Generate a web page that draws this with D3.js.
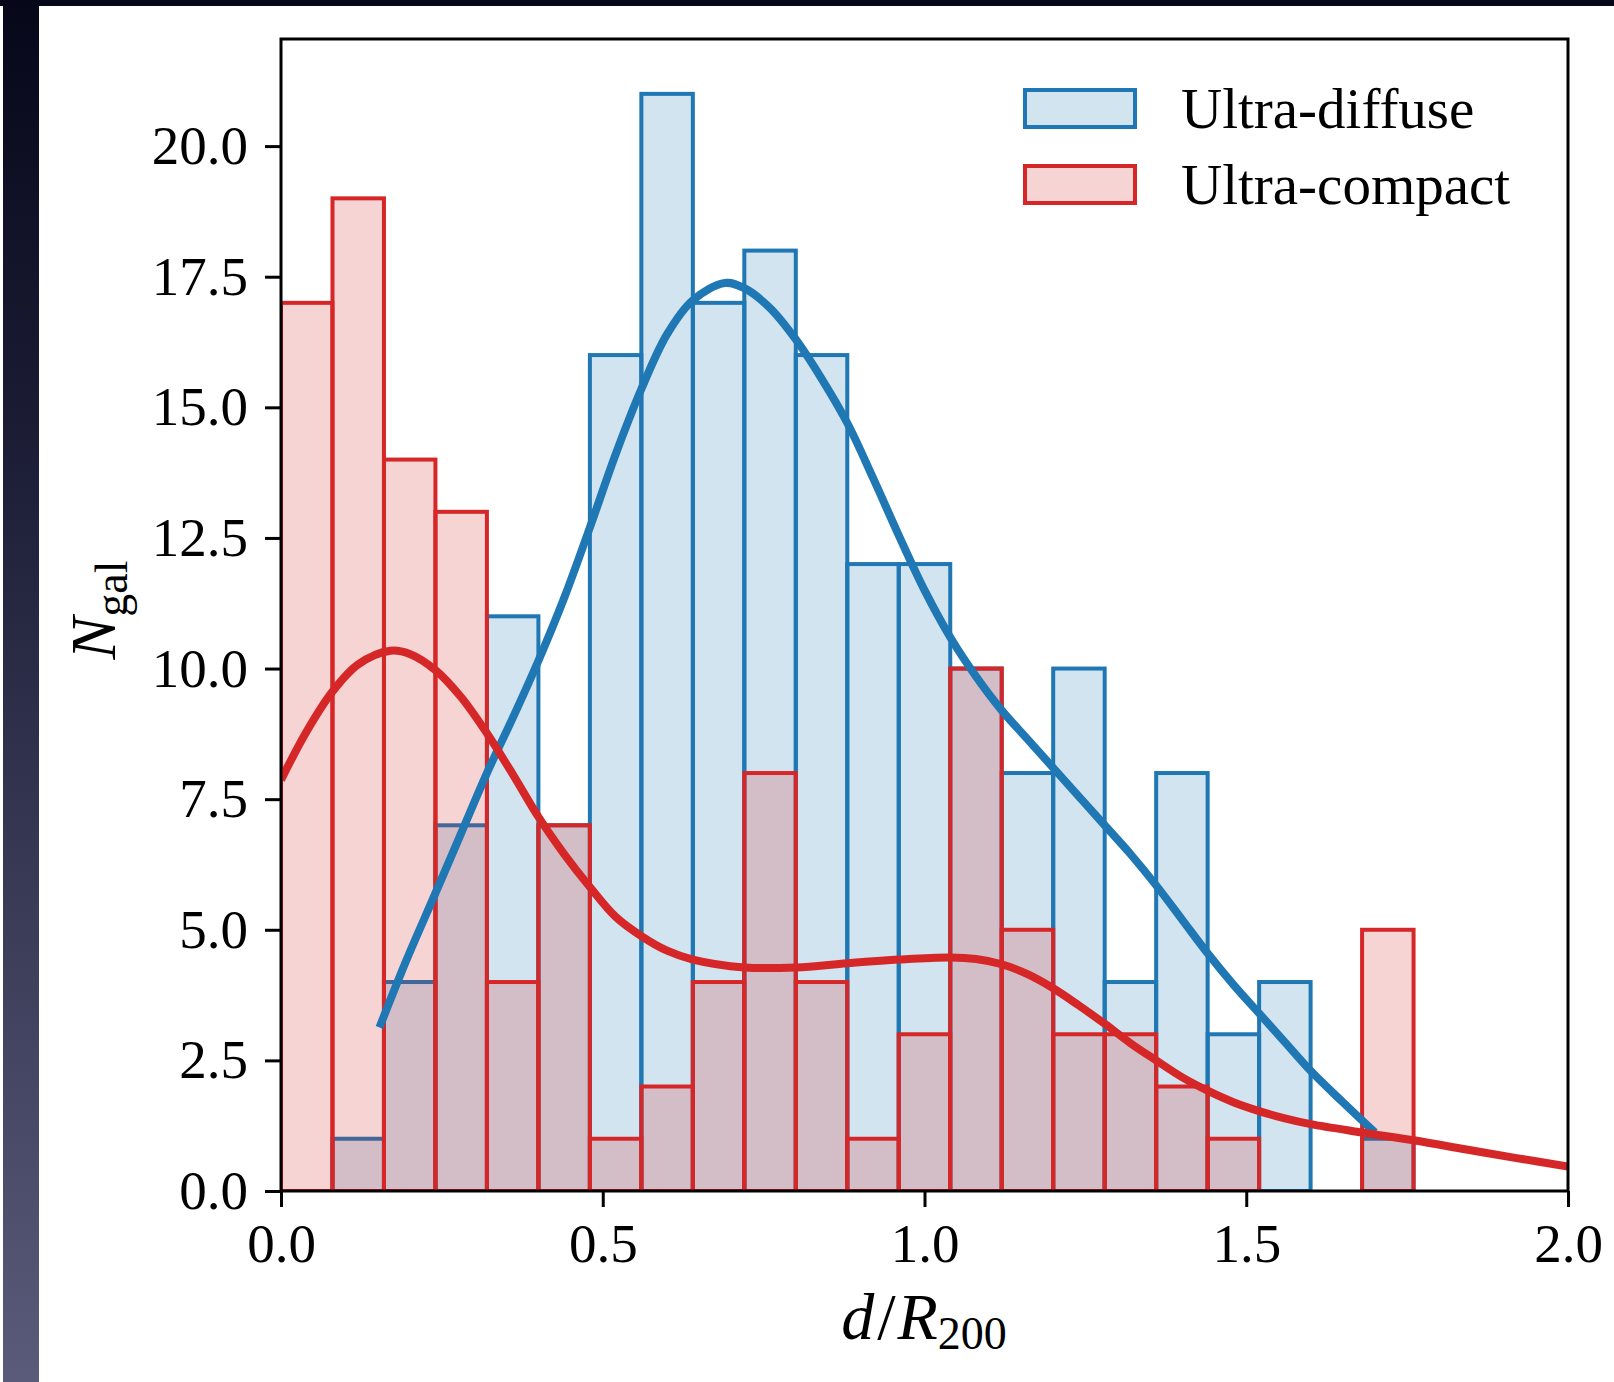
<!DOCTYPE html>
<html>
<head>
<meta charset="utf-8">
<script src="https://cdn.jsdelivr.net/npm/d3@7"></script>
<style>
  html, body { margin: 0; padding: 0; background: #ffffff; }
  svg { display: block; }
</style>
</head>
<body>
<svg id="chart" width="1614" height="1382"></svg>
<script>
// ---- data ----
const binEdges = [0.00, 0.08, 0.16, 0.24, 0.32, 0.40, 0.48, 0.56, 0.64, 0.72, 0.80, 0.88,
                  0.96, 1.04, 1.12, 1.20, 1.28, 1.36, 1.44, 1.52, 1.60, 1.68, 1.76];
const ultraDiffuse = [0, 1, 4, 7, 11, 7, 16, 21, 17, 18, 16, 12, 12, 10, 8, 10, 4, 8, 3, 4, 0, 1];
const ultraCompact = [17, 19, 14, 13, 4, 7, 1, 2, 4, 8, 4, 1, 3, 10, 5, 3, 3, 2, 1, 0, 0, 5];

const kdeDiffuseX = [0.153, 0.195, 0.24, 0.28, 0.32, 0.36, 0.40, 0.44, 0.48, 0.52, 0.56, 0.60, 0.64, 0.69,
                     0.72, 0.76, 0.80, 0.84, 0.88, 0.92, 0.96, 1.00, 1.04, 1.08, 1.12, 1.16, 1.20, 1.24,
                     1.28, 1.32, 1.36, 1.40, 1.44, 1.48, 1.52, 1.56, 1.60, 1.65, 1.70];
const kdeDiffuseY = [3.13, 4.42, 5.7, 6.85, 8.0, 9.05, 10.15, 11.35, 12.7, 14.1, 15.35, 16.4, 17.05, 17.38,
                     17.28, 16.9, 16.3, 15.55, 14.7, 13.65, 12.55, 11.5, 10.6, 9.85, 9.2, 8.65, 8.1, 7.55,
                     7.0, 6.45, 5.85, 5.2, 4.55, 3.95, 3.4, 2.85, 2.3, 1.7, 1.12];

const kdeCompactX = [0.00, 0.04, 0.08, 0.12, 0.17, 0.20, 0.24, 0.28, 0.32, 0.36, 0.40, 0.44, 0.48, 0.52,
                     0.56, 0.60, 0.64, 0.72, 0.80, 0.88, 0.96, 1.04, 1.08, 1.12, 1.16, 1.20, 1.24, 1.28,
                     1.32, 1.36, 1.40, 1.44, 1.48, 1.52, 1.56, 1.60, 1.68, 1.76, 1.84, 1.92, 2.00];
const kdeCompactY = [7.87, 8.8, 9.56, 10.08, 10.34, 10.28, 9.97, 9.45, 8.76, 7.98, 7.16, 6.45, 5.82, 5.25,
                     4.88, 4.6, 4.43, 4.28, 4.28, 4.36, 4.43, 4.47, 4.44, 4.34, 4.15, 3.88, 3.55, 3.2,
                     2.83, 2.5, 2.18, 1.92, 1.7, 1.53, 1.39, 1.28, 1.12, 0.97, 0.8, 0.63, 0.47];

const yTicks = [0, 2.5, 5, 7.5, 10, 12.5, 15, 17.5, 20];
const xTicks = [0, 0.5, 1.0, 1.5, 2.0];
const seriesNames = ["Ultra-diffuse", "Ultra-compact"];

// ---- styling ----
const blue = "#1f77b4", red = "#d62728";
const font = "'Liberation Serif', 'DejaVu Serif', serif";
const W = 1614, H = 1382;
const m = { left: 281, right: 1568, top: 39, bottom: 1191 };

const svg = d3.select("#chart");

// backdrop pieces (dark screen edge)
const defs = svg.append("defs");
const grad = defs.append("linearGradient").attr("id", "edge").attr("x1", 0).attr("y1", 0).attr("x2", 0).attr("y2", 1);
grad.append("stop").attr("offset", "0%").attr("stop-color", "#07071a");
grad.append("stop").attr("offset", "35%").attr("stop-color", "#1e1f38");
grad.append("stop").attr("offset", "100%").attr("stop-color", "#5a5b7a");
svg.append("rect").attr("x", 0).attr("y", 0).attr("width", W).attr("height", H).attr("fill", "#ffffff");
svg.append("rect").attr("x", 3).attr("y", 0).attr("width", 36).attr("height", H).attr("fill", "url(#edge)");
svg.append("rect").attr("x", 0).attr("y", 0).attr("width", W).attr("height", 6).attr("fill", "#07071a");

const x = d3.scaleLinear().domain([0, 2]).range([m.left, m.right]);
const y = d3.scaleLinear().domain([0, 22.05]).range([m.bottom, m.top]);

const clip = defs.append("clipPath").attr("id", "plotclip");
clip.append("rect").attr("x", m.left).attr("y", m.top).attr("width", m.right - m.left).attr("height", m.bottom - m.top);

const plot = svg.append("g").attr("clip-path", "url(#plotclip)");

function drawHist(values, color, cls) {
  const bars = values.map((v, i) => ({ x0: binEdges[i], x1: binEdges[i + 1], v }));
  plot.append("g").attr("class", cls)
    .selectAll("rect").data(bars.filter(b => b.v > 0)).join("rect")
    .attr("x", d => x(d.x0))
    .attr("y", d => y(d.v))
    .attr("width", d => x(d.x1) - x(d.x0))
    .attr("height", d => y(0) - y(d.v))
    .attr("fill", color).attr("fill-opacity", 0.2)
    .attr("stroke", color).attr("stroke-width", 4);
}
drawHist(ultraDiffuse, blue, "diffuse");
drawHist(ultraCompact, red, "compact");

const line = d3.line().x(d => x(d[0])).y(d => y(d[1])).curve(d3.curveCatmullRom.alpha(0.5));
plot.append("path").datum(kdeDiffuseX.map((v, i) => [v, kdeDiffuseY[i]]))
  .attr("d", line).attr("fill", "none").attr("stroke", blue).attr("stroke-width", 8).attr("stroke-linecap", "butt");
plot.append("path").datum(kdeCompactX.map((v, i) => [v, kdeCompactY[i]]))
  .attr("d", line).attr("fill", "none").attr("stroke", red).attr("stroke-width", 8).attr("stroke-linecap", "butt");

// frame
svg.append("rect").attr("x", m.left).attr("y", m.top)
  .attr("width", m.right - m.left).attr("height", m.bottom - m.top)
  .attr("fill", "none").attr("stroke", "#000").attr("stroke-width", 3);

// axes
const fmt = d3.format(".1f");
const yAxis = svg.append("g").attr("transform", `translate(${m.left},0)`)
  .call(d3.axisLeft(y).tickValues(yTicks).tickFormat(fmt).tickSize(16).tickPadding(17));
const xAxis = svg.append("g").attr("transform", `translate(0,${m.bottom})`)
  .call(d3.axisBottom(x).tickValues(xTicks).tickFormat(fmt).tickSize(16).tickPadding(16));
[yAxis, xAxis].forEach(a => {
  a.select(".domain").remove();
  a.selectAll(".tick line").attr("stroke", "#000").attr("stroke-width", 3);
  a.selectAll(".tick text").attr("fill", "#000").style("font-family", font).style("font-size", "55px");
});

// axis labels
const xl = svg.append("text").attr("x", 924).attr("y", 1339).attr("text-anchor", "middle")
  .style("font-family", font).style("font-size", "66px").attr("fill", "#000");
xl.append("tspan").style("font-style", "italic").text("d");
xl.append("tspan").attr("dx", 3).text("/");
xl.append("tspan").attr("dx", 2).style("font-style", "italic").text("R");
xl.append("tspan").attr("dy", 10).style("font-size", "46px").text("200");

const yl = svg.append("text").attr("transform", "translate(115,610) rotate(-90)").attr("text-anchor", "middle")
  .style("font-family", font).style("font-size", "64px").attr("fill", "#000");
yl.append("tspan").style("font-style", "italic").text("N");
yl.append("tspan").attr("dy", 12).style("font-size", "46px").text("gal");

// legend
const legend = svg.append("g");
const legendColors = [blue, red];
seriesNames.forEach((name, i) => {
  const yy = 90 + i * 76;
  legend.append("rect").attr("x", 1025).attr("y", yy).attr("width", 110).attr("height", 37)
    .attr("fill", legendColors[i]).attr("fill-opacity", 0.2)
    .attr("stroke", legendColors[i]).attr("stroke-width", 4);
  legend.append("text").attr("x", 1181).attr("y", yy + 38)
    .style("font-family", font).style("font-size", "57px").attr("fill", "#000").text(name);
});
</script>
</body>
</html>
